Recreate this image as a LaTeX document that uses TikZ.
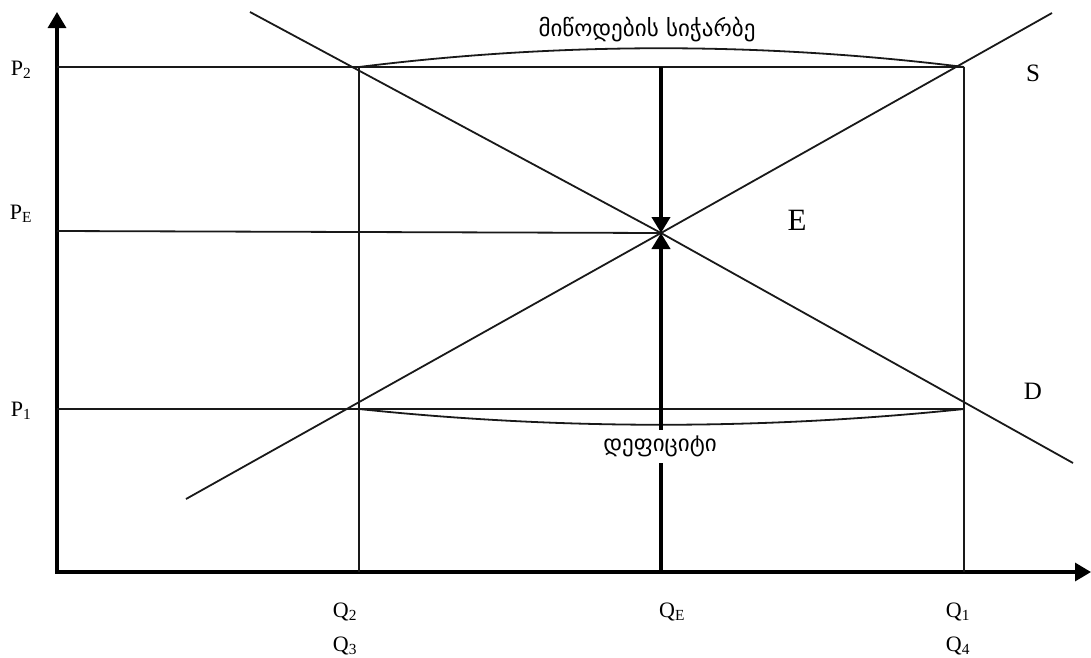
\documentclass[tikz,border=0pt]{standalone}
\usepackage{fontspec}
\setmainfont{Liberation Serif}
\newfontfamily\geofont{DejaVu Sans}
\usetikzlibrary{arrows.meta}

\begin{document}
\begin{tikzpicture}[
      x=1pt, y=-1pt,
      thinline/.style={line width=1.8pt, black!90},
      axisline/.style={line width=3.2pt, -{Triangle[length=16pt,width=18pt]}},
      flowline/.style={line width=4pt, -{Triangle[length=16pt,width=18pt]}},
      lbl/.style={font=\fontsize{22}{22}\selectfont},
      curvelbl/.style={font=\fontsize{25}{25}\selectfont},
      geo/.style={font=\geofont\fontsize{23}{23}\selectfont, inner sep=2pt}
    ]
    \useasboundingbox (0,0) rectangle (1091,657);

    % axes
    \coordinate (origin) at (57,572);
    \coordinate (ytip) at (57,12);
    \coordinate (xtip) at (1091,572);
    \draw[axisline] ([yshift=2pt]origin) -- (ytip);
    \draw[axisline] ([xshift=-2pt]origin) -- (xtip);

    % price levels and quantities
    \coordinate (p2) at (57,67);
    \coordinate (pe) at (57,231);
    \coordinate (p1) at (57,409);
    \coordinate (q2top) at (359,67);
    \coordinate (q1top) at (964,67);
    \coordinate (q2low) at (359,409);
    \coordinate (q1low) at (964,409);
    \coordinate (q2) at (359,572);
    \coordinate (q1) at (964,572);
    \coordinate (qetop) at (661,67);
    \coordinate (qe) at (661,572);
    \coordinate (eq) at (661,233);

    \draw[thinline] (p2) -- (q1top);
    \draw[thinline] (pe) -- (eq);
    \draw[thinline] (p1) -- (q1low);
    \draw[thinline] (q2top) -- (q2);
    \draw[thinline] (q1top) -- (q1);

    % demand and supply
    \coordinate (dstart) at (250,12);
    \coordinate (dend) at (1073,463);
    \coordinate (sstart) at (186,499);
    \coordinate (send) at (1052,13);
    \draw[thinline] (dstart) -- (eq) -- (dend);
    \draw[thinline] (sstart) -- (eq) -- (send);

    % surplus and deficit braces
    \draw[thinline] (q2top) .. controls (560,42) and (762,42) .. (q1top);
    \draw[thinline] (q2low) .. controls (560,430) and (762,430) .. (q1low);

    % movement towards equilibrium
    \draw[flowline] (qetop) -- (eq);
    \draw[flowline] (qe) -- (eq);

    \node[geo] (surplus) at (647,30) {მიწოდების სიჭარბე};
    \node[geo, fill=white, minimum height=33pt] (deficit) at (660,446) {დეფიციტი};

    % labels
    \node[lbl] (lp2) at (21,70) {P\textsubscript{2}};
    \node[lbl] (lpe) at (21,214) {P\textsubscript{E}};
    \node[lbl] (lp1) at (21,411) {P\textsubscript{1}};
    \node[lbl] (lq2) at (345,612) {Q\textsubscript{2}};
    \node[lbl] (lq3) at (345,646) {Q\textsubscript{3}};
    \node[lbl] (lqe) at (672,612) {Q\textsubscript{E}};
    \node[lbl] (lq1) at (958,612) {Q\textsubscript{1}};
    \node[lbl] (lq4) at (958,646) {Q\textsubscript{4}};
    \node[curvelbl] (ls) at (1033,73) {S};
    \node[curvelbl] (ld) at (1033,391) {D};
    \node[font=\fontsize{31}{31}\selectfont] (le) at (797,220) {E};
\end{tikzpicture}
\end{document}
